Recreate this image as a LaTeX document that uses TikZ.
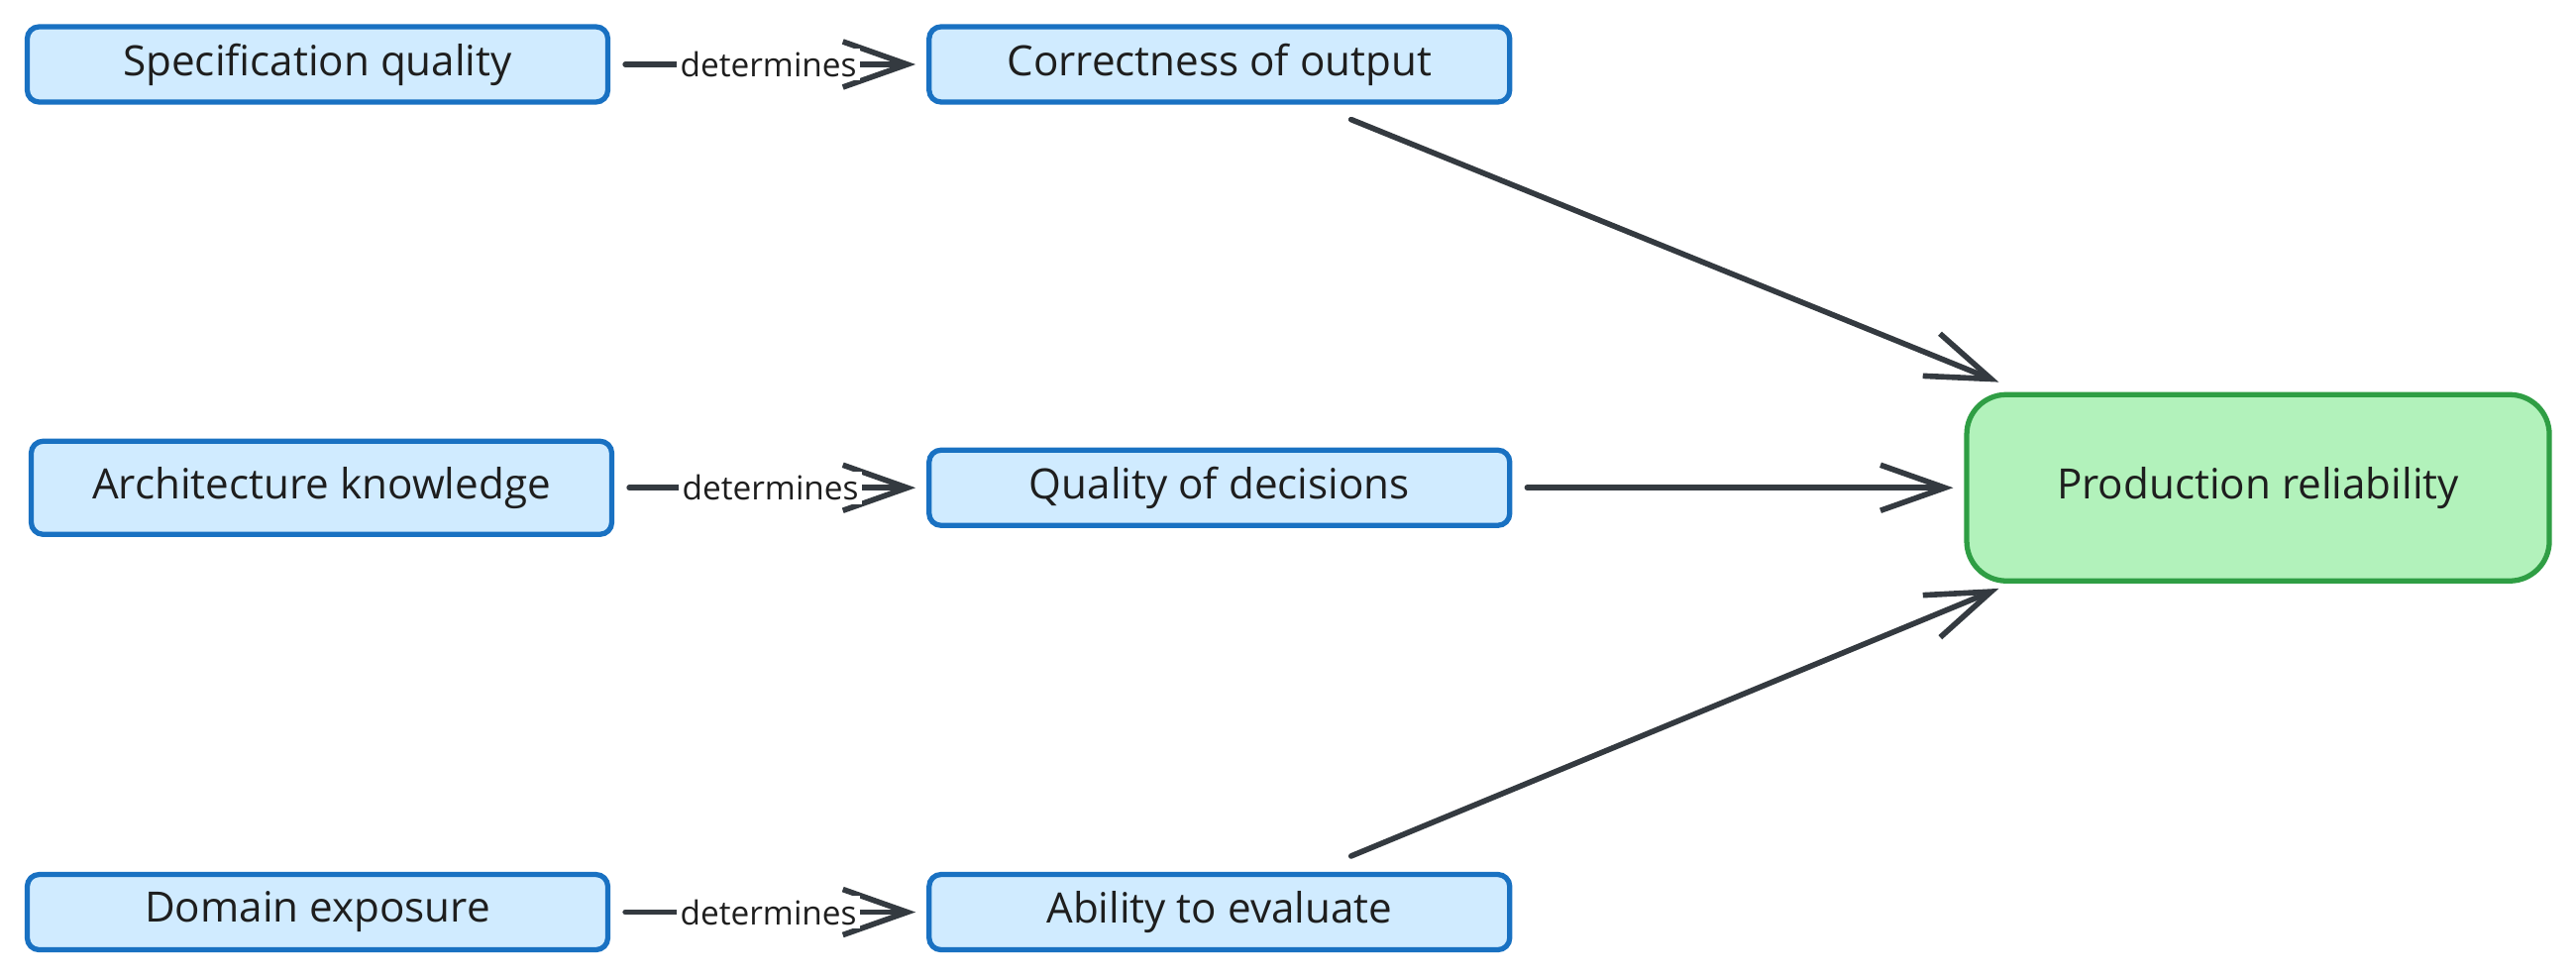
\documentclass[tikz,border=0pt]{standalone}
\usepackage{fontspec}
\setmainfont{Open Sans}
\usetikzlibrary{arrows.meta,positioning}

\definecolor{boxblue}{HTML}{D0EBFF}
\definecolor{lineblue}{HTML}{1971C2}
\definecolor{boxgreen}{HTML}{B2F2BB}
\definecolor{linegreen}{HTML}{2F9E44}
\definecolor{arrowgray}{HTML}{343A40}
\definecolor{textblack}{HTML}{1E1E1E}

\begin{document}
\begin{tikzpicture}[
  node distance=3.19cm,
  >={Straight Barb[length=6.5mm,width=4.6mm]},
  factor/.style={
    rectangle,
    rounded corners=0.12cm,
    draw=lineblue,
    fill=boxblue,
    line width=1.5pt,
    align=center,
    minimum width=5.86cm,
    minimum height=0.76cm,
    text=textblack,
    font=\fontsize{12}{14}\selectfont
  },
  outcome/.style={
    factor,
    rounded corners=0.4cm,
    draw=linegreen,
    fill=boxgreen,
    minimum width=5.88cm,
    minimum height=1.88cm
  },
  link/.style={
    ->,
    draw=arrowgray,
    line width=1.6pt,
    line cap=round,
    shorten <=0.15cm,
    shorten >=0.11cm
  },
  verb/.style={
    fill=white,
    inner sep=1pt,
    text=textblack,
    font=\fontsize{9.5}{11}\selectfont
  }
]
\useasboundingbox (0,0) rectangle (26,9.87);

\node[factor] (spec) at (3.205,9.22) {Specification quality};
\node[factor, right=of spec] (correct) {Correctness of output};

\node[factor, below=3.46cm of correct] (decide) {Quality of decisions};
\node[factor, minimum height=0.94cm, left=3.15cm of decide] (arch) {Architecture knowledge};

\node[factor, below=3.47cm of decide] (evaluate) {Ability to evaluate};
\node[factor, left=of evaluate] (domain) {Domain exposure};

\node[outcome, right=4.56cm of decide] (prod) {Production reliability};

% Arrows
\draw[link] (spec.east) -- node[verb] {determines} (correct.west);
\draw[link] (arch.east) -- node[verb] {determines} (decide.west);
\draw[link] (domain.east) -- node[verb] {determines} (evaluate.west);

\draw[link, shorten <=0pt, shorten >=0pt] ([shift={(1.33,-0.15)}]correct.south) -- ([shift={(0.35,0.10)}]prod.north west);
\draw[link] (decide.east) -- (prod.west);
\draw[link, shorten <=0pt, shorten >=0pt] ([shift={(1.33,0.16)}]evaluate.north) -- ([shift={(0.35,-0.05)}]prod.south west);

\end{tikzpicture}
\end{document}
